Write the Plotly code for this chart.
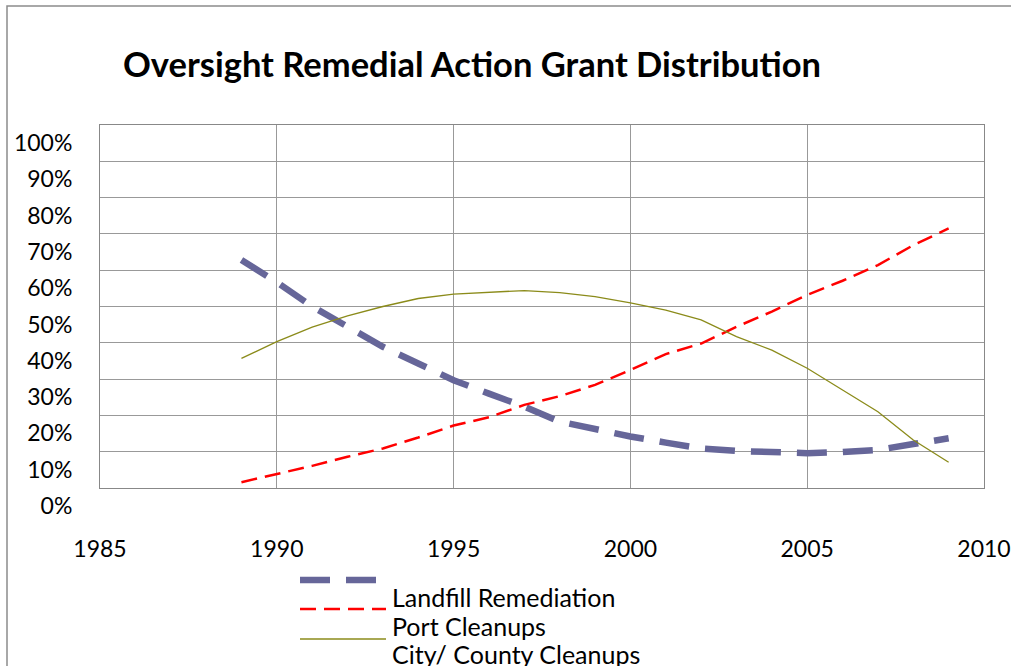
import plotly.graph_objects as go

years = list(range(1989, 2010))
landfill = [62.8, 56.7, 50.0, 44.6, 38.9, 34.3, 29.7, 26.0, 22.4, 18.3, 16.2,
            14.2, 12.5, 10.9, 10.2, 9.7, 9.6, 9.9, 10.5, 12.1, 13.7]
port = [1.6, 3.8, 6.1, 8.6, 10.9, 13.9, 17.2, 19.5, 22.9, 25.3, 28.4,
        32.5, 36.9, 39.8, 44.4, 48.6, 53.2, 57.1, 61.4, 66.9, 71.5]
city = [35.7, 40.3, 44.3, 47.4, 50.0, 52.2, 53.4, 53.9, 54.4, 53.8, 52.7,
        51.0, 49.0, 46.3, 41.7, 38.0, 33.0, 27.0, 21.0, 13.2, 7.1]
names = ["Landfill Remediation", "Port Cleanups", "City/ County Cleanups"]

W, H = 1011, 666
L, R, T, B = 100, 984, 125, 488
FONT = "Lato"


def fx(px):
    return (px - L) / (R - L)


def fy(py):
    return (B - py) / (B - T)


styles = [
    dict(color="#666699", width=6.5, dash="30px,16px"),
    dict(color="#ff0000", width=2.5, dash="16px,8px"),
    dict(color="#8b8b1a", width=1.3),
]

fig = go.Figure()
for name, vals, st in zip(names, [landfill, port, city], styles):
    fig.add_trace(go.Scatter(x=years, y=vals, mode="lines", name=name,
                             line=st, showlegend=False))

fig.update_layout(
    width=W, height=H,
    margin=dict(l=L, r=W - R, t=T, b=H - B, autoexpand=False),
    paper_bgcolor="white", plot_bgcolor="white",
    font=dict(family=FONT, size=23, color="black"),
    title=dict(text="<b>Oversight Remedial Action Grant Distribution</b>",
               x=472 / W, xanchor="center", y=1 - 65 / H, yanchor="middle",
               font=dict(family=FONT, size=34.5, color="black")),
)
fig.update_xaxes(range=[1985, 2010], dtick=5, tick0=1985, showgrid=True,
                 gridcolor="#999999", gridwidth=1, zeroline=False,
                 showline=True, linecolor="#888888", linewidth=1, mirror=True,
                 ticks="", ticklabelstandoff=40, automargin=False)
fig.update_yaxes(range=[0, 100], dtick=10, ticksuffix="%", showgrid=True,
                 gridcolor="#999999", gridwidth=1, zeroline=False,
                 showline=True, linecolor="#888888", linewidth=1, mirror=True,
                 ticks="", ticklabelstandoff=22, ticklabelshift=18,
                 automargin=False)

# outer chart frame
fig.add_shape(type="rect", xref="paper", yref="paper",
              x0=fx(7), x1=fx(1030), y0=fy(690), y1=fy(6),
              line=dict(color="#8c8c8c", width=1.5), layer="below")

# legend drawn by hand (Excel puts the sample above its label)
sample_y = [580, 609, 639]
label_y = [597, 626, 654]
for name, st, sy, ly in zip(names, styles, sample_y, label_y):
    fig.add_shape(type="line", xref="paper", yref="paper",
                  x0=fx(300), x1=fx(386), y0=fy(sy), y1=fy(sy),
                  line=st)
    fig.add_annotation(text=name, xref="paper", yref="paper",
                       x=fx(390), y=fy(ly), xanchor="left", yanchor="middle",
                       showarrow=False, font=dict(family=FONT, size=25))

fig.write_html("out.html", config={"displayModeBar": False},
               post_script="document.body.style.margin='0px';"
                           "document.body.style.overflow='hidden';")
